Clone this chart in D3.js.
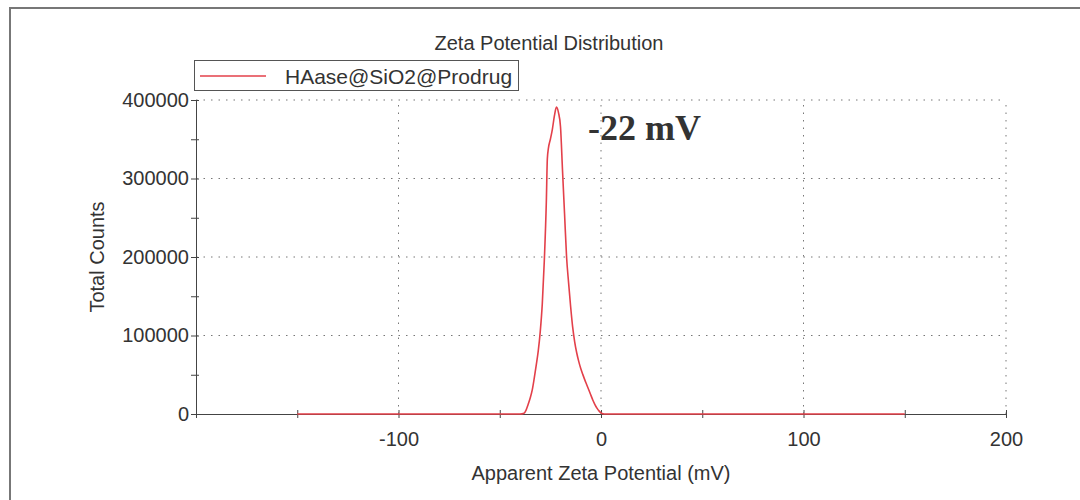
<!DOCTYPE html>
<html>
<head>
<meta charset="utf-8">
<script src="https://cdn.jsdelivr.net/npm/d3@7"></script>
<style>
  body { margin: 0; background: #fff; }
  text { font-family: "Liberation Sans", Arial, sans-serif; fill: #333; }
</style>
</head>
<body>
<div id="chart"></div>
<script>
// zeta potential (mV) and total counts
const zeta = [-150, -45, -40, -38, -37, -36, -35, -34, -33, -32, -31, -30, -29, -28, -27, -26.5, -26,
  -25, -24, -23, -22, -21, -20, -19, -18, -17, -16, -15, -14, -13, -12, -11, -10, -9, -8, -7, -6,
  -5, -4, -3, -2, -1, 0, 1, 2, 150];
const counts = [0, 0, 0, 1000, 5000, 12000, 20000, 30000, 45000, 62000, 80000, 105000, 140000, 195000, 270000, 325000, 338000,
  350000, 363000, 380000, 391000, 384000, 366000, 310000, 255000, 200000, 167000, 137000, 111000, 92000, 78000, 67000, 58000, 50500, 43500, 37000, 30500,
  24000, 17500, 12000, 7500, 4000, 1500, 300, 0, 0];
const seriesName = "HAase@SiO2@Prodrug";
const xTicks = [-100, 0, 100, 200];
const xMinor = [-150, -50, 50, 150];
const yTicks = [0, 100000, 200000, 300000, 400000];
const yMinor = [50000, 150000, 250000, 350000];
const annotation = "-22 mV";

const width = 1080, height = 500;
const margin = {top: 100, right: 74, bottom: 86, left: 196};

const svg = d3.select('#chart').append('svg')
  .attr('width', width)
  .attr('height', height);

// outer frame of the exported picture
svg.append('rect')
  .attr('x', 10).attr('y', 8)
  .attr('width', 1090).attr('height', 510)
  .attr('fill', 'none')
  .attr('stroke', '#777')
  .attr('stroke-width', 2);

const x = d3.scaleLinear().domain([-200, 200]).range([margin.left, width - margin.right]);
const y = d3.scaleLinear().domain([0, 400000]).range([height - margin.bottom, margin.top]);

// dotted grid
svg.append('g').selectAll('line')
  .data(yTicks.slice(1))
  .join('line')
  .attr('x1', x(-200)).attr('x2', x(200))
  .attr('y1', d => y(d)).attr('y2', d => y(d))
  .attr('stroke', '#777')
  .attr('stroke-dasharray', '1.5,6');

svg.append('g').selectAll('line')
  .data(xTicks)
  .join('line')
  .attr('x1', d => x(d)).attr('x2', d => x(d))
  .attr('y1', y(0)).attr('y2', y(400000))
  .attr('stroke', '#777')
  .attr('stroke-dasharray', '1.5,6');

// axes
const fmt = d => String(d); // plain hyphen, no thousands separators
const xAxis = svg.append('g').attr('transform', `translate(0,${y(0)})`)
  .call(d3.axisBottom(x).tickValues(xTicks).tickSize(4).tickPadding(14).tickFormat(fmt));
const xAxisMinor = svg.append('g').attr('transform', `translate(0,${y(0)})`)
  .call(d3.axisBottom(x).tickValues(xMinor).tickSize(4).tickFormat(''))
  .call(g => g.select('.domain').remove());
const yAxis = svg.append('g').attr('transform', `translate(${x(-200)},0)`)
  .call(d3.axisLeft(y).tickValues(yTicks).tickSize(5).tickPadding(2).tickFormat(fmt));
const yAxisMinor = svg.append('g').attr('transform', `translate(${x(-200)},0)`)
  .call(d3.axisLeft(y).tickValues(yMinor).tickSize(5).tickFormat(''))
  .call(g => g.select('.domain').remove());

// ticks cross the axis line
[xAxis, xAxisMinor].forEach(g => g.selectAll('.tick line').attr('y1', -4));
[yAxis, yAxisMinor].forEach(g => g.selectAll('.tick line').attr('x1', 3));

svg.selectAll('.tick line').attr('stroke', '#444');
svg.selectAll('.domain').attr('stroke', '#444');
svg.selectAll('.tick text')
  .style('font-size', '20px')
  .style('font-family', '"Liberation Sans", Arial, sans-serif')
  .attr('fill', '#333');

// curve
const line = d3.line()
  .x((d, i) => x(zeta[i]))
  .y(d => y(d))
  .curve(d3.curveMonotoneX);

svg.append('path')
  .datum(counts)
  .attr('d', line)
  .attr('fill', 'none')
  .attr('stroke', '#e3404a')
  .attr('stroke-width', 1.6);

// title
svg.append('text')
  .attr('x', 549).attr('y', 50)
  .attr('text-anchor', 'middle')
  .style('font-size', '20px')
  .text('Zeta Potential Distribution');

// legend
const legend = svg.append('g');
legend.append('rect')
  .attr('x', 194.5).attr('y', 60.5)
  .attr('width', 324).attr('height', 30)
  .attr('fill', '#fff')
  .attr('stroke', '#555');
legend.append('line')
  .attr('x1', 200).attr('x2', 266)
  .attr('y1', 76).attr('y2', 76)
  .attr('stroke', '#e3404a')
  .attr('stroke-width', 1.4);
legend.append('text')
  .attr('x', 285).attr('y', 84)
  .style('font-size', '21px')
  .text(seriesName);

// axis titles
svg.append('text')
  .attr('x', x(0)).attr('y', 480)
  .attr('text-anchor', 'middle')
  .style('font-size', '20px')
  .text('Apparent Zeta Potential (mV)');

svg.append('text')
  .attr('transform', `translate(104,${y(200000)}) rotate(-90)`)
  .attr('text-anchor', 'middle')
  .style('font-size', '20px')
  .text('Total Counts');

// peak label
svg.append('text')
  .attr('x', 588).attr('y', 140)
  .style('font-family', '"Liberation Serif", "Times New Roman", serif')
  .style('font-weight', 'bold')
  .style('font-size', '36px')
  .attr('fill', '#111')
  .text(annotation);
</script>
</body>
</html>
